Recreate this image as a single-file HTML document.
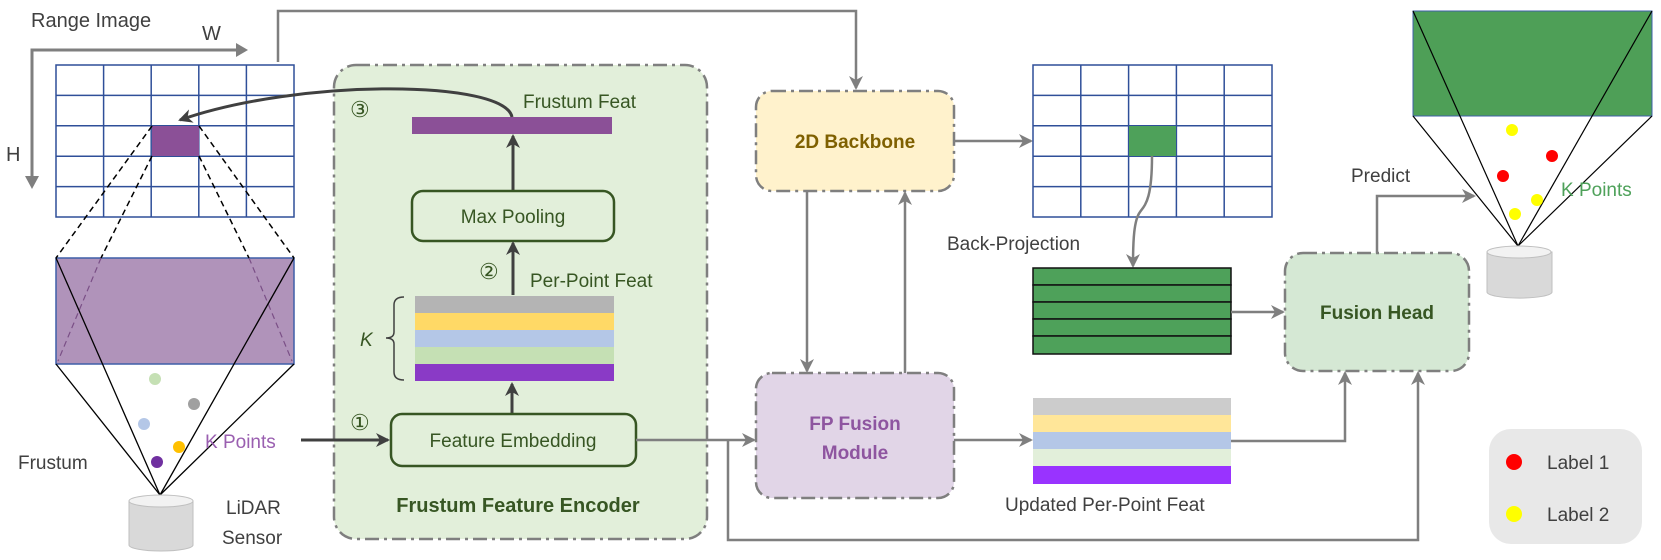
<!DOCTYPE html>
<html><head><meta charset="utf-8"><style>
html,body{margin:0;padding:0;background:#fff}
svg{display:block}
text{font-family:"Liberation Sans",sans-serif}
</style></head><body>
<svg width="1661" height="560" viewBox="0 0 1661 560" xmlns="http://www.w3.org/2000/svg">
<defs>
<marker id="ag" markerWidth="14" markerHeight="14" refX="12" refY="7" orient="auto" markerUnits="userSpaceOnUse"><path d="M0,0 L14,7 L0,14 L4,7 z" fill="#7f7f7f"/></marker>
<marker id="ad" markerWidth="14" markerHeight="14" refX="12" refY="7" orient="auto" markerUnits="userSpaceOnUse"><path d="M0,0 L14,7 L0,14 L4,7 z" fill="#404040"/></marker>
</defs>

<!-- Range image axes -->
<text x="31" y="27" font-size="20" fill="#404040">Range Image</text>
<text x="202" y="40" font-size="20" fill="#404040">W</text>
<text x="6" y="161" font-size="20" fill="#404040">H</text>
<polyline points="32,184 32,50 240,50" fill="none" stroke="#7f7f7f" stroke-width="3"/>
<path d="M236,43 L248,50 L236,57 z" fill="#7f7f7f"/>
<path d="M25,176 L32,189 L39,176 z" fill="#7f7f7f"/>

<!-- grid 1 -->
<g stroke="#2f4f99" stroke-width="1.5" fill="none">
<rect x="56" y="65" width="238" height="152" fill="#fff"/>
<line x1="103.6" y1="65" x2="103.6" y2="217"/><line x1="151.2" y1="65" x2="151.2" y2="217"/><line x1="198.8" y1="65" x2="198.8" y2="217"/><line x1="246.4" y1="65" x2="246.4" y2="217"/>
<line x1="56" y1="95.4" x2="294" y2="95.4"/><line x1="56" y1="125.8" x2="294" y2="125.8"/><line x1="56" y1="156.2" x2="294" y2="156.2"/><line x1="56" y1="186.6" x2="294" y2="186.6"/>
</g>
<rect x="152" y="126" width="47" height="30" fill="#8b5097"/>

<!-- top connector to 2D backbone -->
<polyline points="278,62 278,11 856,11 856,88" fill="none" stroke="#7f7f7f" stroke-width="2.5" marker-end="url(#ag)"/>

<!-- frustum left -->
<rect x="56" y="258" width="238" height="106" fill="#b093ba" stroke="#3f5fa8" stroke-width="1.5"/>
<g stroke="#000" stroke-width="1.5" stroke-dasharray="6,4" fill="none">
<line x1="152" y1="126" x2="56" y2="258"/><line x1="199" y1="126" x2="294" y2="258"/>
<line x1="152" y1="156" x2="101" y2="258"/><line x1="199" y1="156" x2="249" y2="258"/>
</g>
<g stroke="#7a4f86" stroke-width="1.2" stroke-dasharray="6,4" fill="none">
<line x1="101" y1="258" x2="58" y2="361"/><line x1="249" y1="258" x2="292" y2="361"/>
</g>
<g stroke="#000" stroke-width="1.3" fill="none">
<line x1="160" y1="495" x2="56" y2="364"/><line x1="160" y1="495" x2="294" y2="364"/>
<line x1="160" y1="495" x2="56" y2="258"/><line x1="160" y1="495" x2="294" y2="258"/>
</g>
<circle cx="155" cy="379" r="6" fill="#c5e0b4"/>
<circle cx="194" cy="404" r="6" fill="#a0a0a0"/>
<circle cx="144" cy="424" r="6" fill="#b4c7e7"/>
<circle cx="179" cy="447" r="6" fill="#ffc000"/>
<circle cx="157" cy="462" r="6" fill="#7030a0"/>
<text x="18" y="469" font-size="19" fill="#404040">Frustum</text>
<text x="205" y="448" font-size="19" fill="#9a5fb0">K Points</text>

<!-- cylinder left -->
<g>
<path d="M129,501 L129,545 A32,6 0 0 0 193,545 L193,501 z" fill="#d9d9d9" stroke="#bfbfbf"/>
<ellipse cx="161" cy="501" rx="32" ry="6" fill="#f2f2f2" stroke="#bfbfbf"/>
</g>
<text x="226" y="514" font-size="19" fill="#404040">LiDAR</text>
<text x="222" y="544" font-size="19" fill="#404040">Sensor</text>

<!-- Encoder -->
<rect x="334" y="65" width="373" height="474" rx="22" fill="#e2efda" stroke="#7f7f7f" stroke-width="2.5" stroke-dasharray="14,5,3,5"/>
<line x1="301" y1="440" x2="388" y2="440" stroke="#404040" stroke-width="3" marker-end="url(#ad)"/>
<text x="350" y="117" font-size="22" fill="#375623">③</text>
<text x="523" y="108" font-size="19" fill="#375623">Frustum Feat</text>
<rect x="412" y="117" width="200" height="17" fill="#8b5097"/>
<path d="M512,117 C505,80 300,78 180,120" fill="none" stroke="#404040" stroke-width="3" marker-end="url(#ad)"/>
<line x1="513" y1="191" x2="513" y2="136" stroke="#404040" stroke-width="3" marker-end="url(#ad)"/>
<rect x="412" y="191" width="202" height="50" rx="11" fill="#e2efda" stroke="#375623" stroke-width="2.5"/>
<text x="513" y="223" font-size="19" fill="#375623" text-anchor="middle">Max Pooling</text>
<text x="479" y="279" font-size="22" fill="#375623">②</text>
<line x1="513" y1="295" x2="513" y2="243" stroke="#404040" stroke-width="3" marker-end="url(#ad)"/>
<text x="530" y="287" font-size="19" fill="#375623">Per-Point Feat</text>
<rect x="415" y="296" width="199" height="17" fill="#b4b4b4"/>
<rect x="415" y="313" width="199" height="17" fill="#ffd966"/>
<rect x="415" y="330" width="199" height="17" fill="#b4c7e7"/>
<rect x="415" y="347" width="199" height="17" fill="#c5e0b4"/>
<rect x="415" y="364" width="199" height="17" fill="#8a3ac6"/>
<path d="M404,297 Q394,297 394,305 L394,332 Q394,338 386,338 Q394,338 394,344 L394,372 Q394,380 404,380" fill="none" stroke="#404040" stroke-width="1.5"/>
<text x="360" y="346" font-size="19" fill="#375623" font-style="italic">K</text>
<line x1="512" y1="414" x2="512" y2="384" stroke="#404040" stroke-width="3" marker-end="url(#ad)"/>
<text x="350" y="430" font-size="22" fill="#375623">①</text>
<rect x="391" y="414" width="245" height="52" rx="11" fill="#e2efda" stroke="#375623" stroke-width="2.5"/>
<text x="513" y="447" font-size="19" fill="#375623" text-anchor="middle">Feature Embedding</text>
<text x="518" y="512" font-size="20" fill="#375623" font-weight="bold" text-anchor="middle">Frustum Feature Encoder</text>

<!-- FE to FP fusion and bottom -->
<line x1="636" y1="440" x2="754" y2="440" stroke="#7f7f7f" stroke-width="2.5" marker-end="url(#ag)"/>
<polyline points="728,440 728,540 1418,540 1418,373" fill="none" stroke="#7f7f7f" stroke-width="2.5" marker-end="url(#ag)"/>

<!-- 2D backbone -->
<rect x="756" y="91" width="198" height="100" rx="16" fill="#fff2cc" stroke="#7f7f7f" stroke-width="2.5" stroke-dasharray="14,5,3,5"/>
<text x="855" y="148" font-size="19" fill="#7f6000" font-weight="bold" text-anchor="middle">2D Backbone</text>
<line x1="807" y1="191" x2="807" y2="371" stroke="#7f7f7f" stroke-width="2.5" marker-end="url(#ag)"/>
<line x1="905" y1="373" x2="905" y2="193" stroke="#7f7f7f" stroke-width="2.5" marker-end="url(#ag)"/>
<line x1="954" y1="141" x2="1031" y2="141" stroke="#7f7f7f" stroke-width="2.5" marker-end="url(#ag)"/>

<!-- FP fusion -->
<rect x="756" y="373" width="198" height="125" rx="16" fill="#e1d5e7" stroke="#7f7f7f" stroke-width="2.5" stroke-dasharray="14,5,3,5"/>
<text x="855" y="430" font-size="19" fill="#8e55a0" font-weight="bold" text-anchor="middle">FP Fusion</text>
<text x="855" y="459" font-size="19" fill="#8e55a0" font-weight="bold" text-anchor="middle">Module</text>
<line x1="954" y1="440" x2="1031" y2="440" stroke="#7f7f7f" stroke-width="2.5" marker-end="url(#ag)"/>

<!-- grid 2 -->
<g stroke="#2f4f99" stroke-width="1.5" fill="none">
<rect x="1033" y="65" width="239" height="152" fill="#fff"/>
<line x1="1080.8" y1="65" x2="1080.8" y2="217"/><line x1="1128.6" y1="65" x2="1128.6" y2="217"/><line x1="1176.4" y1="65" x2="1176.4" y2="217"/><line x1="1224.2" y1="65" x2="1224.2" y2="217"/>
<line x1="1033" y1="95.4" x2="1272" y2="95.4"/><line x1="1033" y1="125.8" x2="1272" y2="125.8"/><line x1="1033" y1="156.2" x2="1272" y2="156.2"/><line x1="1033" y1="186.6" x2="1272" y2="186.6"/>
</g>
<rect x="1129" y="126" width="47" height="30" fill="#4ea15a"/>
<path d="M1152,156 C1152,200 1145,205 1140,212 C1134,220 1133,240 1133,266" fill="none" stroke="#7f7f7f" stroke-width="2.5" marker-end="url(#ag)"/>
<text x="947" y="250" font-size="19" fill="#404040">Back-Projection</text>

<!-- green stack -->
<g stroke="#111" stroke-width="1.5" fill="#4ea15a">
<rect x="1033" y="268" width="198" height="17"/><rect x="1033" y="285" width="198" height="17"/><rect x="1033" y="302" width="198" height="17"/><rect x="1033" y="319" width="198" height="17"/><rect x="1033" y="336" width="198" height="18"/>
</g>
<line x1="1231" y1="312" x2="1283" y2="312" stroke="#7f7f7f" stroke-width="2.5" marker-end="url(#ag)"/>

<!-- updated stack -->
<rect x="1033" y="398" width="198" height="17" fill="#cccccc"/>
<rect x="1033" y="415" width="198" height="17" fill="#ffe699"/>
<rect x="1033" y="432" width="198" height="17" fill="#b4c7e7"/>
<rect x="1033" y="449" width="198" height="17" fill="#e2efda"/>
<rect x="1033" y="466" width="198" height="18" fill="#9933ff"/>
<text x="1005" y="511" font-size="19" fill="#404040">Updated Per-Point Feat</text>
<polyline points="1231,441 1345,441 1345,373" fill="none" stroke="#7f7f7f" stroke-width="2.5" marker-end="url(#ag)"/>

<!-- Fusion head -->
<rect x="1285" y="253" width="184" height="118" rx="18" fill="#d5e8d4" stroke="#7f7f7f" stroke-width="2.5" stroke-dasharray="14,5,3,5"/>
<text x="1377" y="319" font-size="19" fill="#375623" font-weight="bold" text-anchor="middle">Fusion Head</text>
<polyline points="1377,253 1377,196 1474,196" fill="none" stroke="#7f7f7f" stroke-width="2.5" marker-end="url(#ag)"/>
<text x="1351" y="182" font-size="19" fill="#404040">Predict</text>

<!-- right frustum -->
<rect x="1413" y="11" width="239" height="105" fill="#4e9f57" stroke="#3f5fa8" stroke-width="1"/>
<g stroke="#000" stroke-width="1.2" fill="none">
<line x1="1518" y1="246" x2="1413" y2="116"/><line x1="1518" y1="246" x2="1652" y2="116"/>
<line x1="1518" y1="246" x2="1413" y2="11"/><line x1="1518" y1="246" x2="1652" y2="11"/>
</g>
<circle cx="1512" cy="130" r="6" fill="#ffff00"/>
<circle cx="1552" cy="156" r="6" fill="#ff0000"/>
<circle cx="1503" cy="176" r="6" fill="#ff0000"/>
<circle cx="1537" cy="200" r="6" fill="#ffff00"/>
<circle cx="1515" cy="214" r="6" fill="#ffff00"/>
<text x="1561" y="196" font-size="19" fill="#4ea15a">K Points</text>
<path d="M1487,252 L1487,292 A32,6 0 0 0 1552,292 L1552,252 z" fill="#d9d9d9" stroke="#bfbfbf"/>
<ellipse cx="1519" cy="252" rx="32" ry="6" fill="#f2f2f2" stroke="#bfbfbf"/>

<!-- legend -->
<rect x="1489" y="429" width="153" height="115" rx="22" fill="#e8e8e8"/>
<circle cx="1514" cy="462" r="8" fill="#ff0000"/>
<text x="1547" y="469" font-size="19" fill="#404040">Label 1</text>
<circle cx="1514" cy="514" r="8" fill="#ffff00"/>
<text x="1547" y="521" font-size="19" fill="#404040">Label 2</text>
</svg>
</body></html>
